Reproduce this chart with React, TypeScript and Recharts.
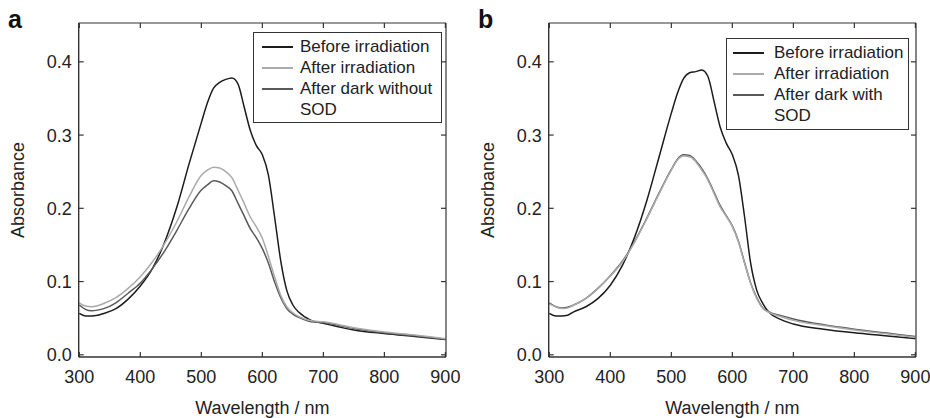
import { Line, LineChart, XAxis, YAxis } from 'recharts'

// wavelength samples (nm)
const WAVELENGTHS = [
    300, 310, 320, 330, 340, 360, 380, 400, 420, 440, 460, 480, 500, 510, 520, 530, 540, 550,
    560, 570, 580, 590, 600, 610, 620, 630, 640, 650, 660, 680, 700, 750, 800, 850, 900,
]

// panel a
const A_BEFORE = [
    0.0565, 0.053, 0.053, 0.054, 0.0565, 0.063, 0.076, 0.094, 0.118, 0.154, 0.202, 0.261, 0.317,
    0.344, 0.364, 0.372, 0.376, 0.378, 0.37, 0.339, 0.307, 0.286, 0.273, 0.245, 0.1885, 0.129,
    0.088, 0.068, 0.058, 0.047, 0.043, 0.034, 0.029, 0.025, 0.021,
]
const A_AFTER_IRR = [
    0.071, 0.0665, 0.0656, 0.067, 0.07, 0.078, 0.0906, 0.1066, 0.127, 0.152, 0.182, 0.216, 0.245,
    0.252, 0.256, 0.255, 0.25, 0.242, 0.225, 0.207, 0.1885, 0.175, 0.159, 0.134, 0.1066, 0.0815,
    0.0656, 0.0574, 0.052, 0.0464, 0.045, 0.037, 0.031, 0.027, 0.022,
]
const A_AFTER_DARK = [
    0.068, 0.062, 0.06, 0.061, 0.063, 0.071, 0.084, 0.098, 0.118, 0.142, 0.17, 0.2, 0.225, 0.232,
    0.2377, 0.236, 0.231, 0.224, 0.207, 0.19, 0.1726, 0.16, 0.145, 0.125, 0.0997, 0.0783, 0.0633,
    0.0556, 0.051, 0.045, 0.044, 0.036, 0.03, 0.026, 0.0215,
]

// panel b
const B_BEFORE = [
    0.0565, 0.053, 0.053, 0.054, 0.0587, 0.0656, 0.077, 0.095, 0.1225, 0.161, 0.211, 0.2705, 0.33,
    0.357, 0.377, 0.385, 0.3866, 0.389, 0.38, 0.346, 0.311, 0.289, 0.273, 0.245, 0.1885, 0.125,
    0.088, 0.07, 0.058, 0.048, 0.042, 0.035, 0.03, 0.026, 0.022,
]
const B_AFTER_IRR = [
    0.07, 0.0656, 0.0633, 0.064, 0.068, 0.077, 0.0906, 0.1075, 0.127, 0.154, 0.186, 0.22, 0.252,
    0.266, 0.2714, 0.2705, 0.2637, 0.252, 0.2386, 0.22, 0.202, 0.189, 0.175, 0.154, 0.125, 0.0975,
    0.077, 0.0633, 0.058, 0.052, 0.047, 0.04, 0.034, 0.029, 0.024,
]
const B_AFTER_DARK = [
    0.071, 0.066, 0.064, 0.065, 0.068, 0.077, 0.091, 0.108, 0.128, 0.155, 0.187, 0.221, 0.253,
    0.267, 0.273, 0.272, 0.265, 0.254, 0.24, 0.222, 0.204, 0.19, 0.176, 0.155, 0.126, 0.098, 0.078,
    0.064, 0.0585, 0.0535, 0.049, 0.041, 0.035, 0.03, 0.025,
]

const X_TICKS = [300, 400, 500, 600, 700, 800, 900]
const Y_TICKS = [0, 0.1, 0.2, 0.3, 0.4]
const LEGEND_A = ['Before irradiation', 'After irradiation', 'After dark without\nSOD']
const LEGEND_B = ['Before irradiation', 'After irradiation', 'After dark with\nSOD']

const COLORS = ['#1c1c1c', '#aaaaaa', '#595959']
const AXIS = '#333'
const TEXT = '#222'
const FONT = '"Liberation Sans", Arial, sans-serif'

function buildRows(before: number[], irr: number[], dark: number[]) {
    return WAVELENGTHS.map((nm, i) => ({
        nm,
        before: before[i],
        irr: irr[i],
        dark: dark[i],
    }))
}

function BottomTick({ x, y, payload }: any) {
    return (
        <g>
            <line x1={x} x2={x} y1={y} y2={y - 5} stroke={AXIS} strokeWidth={1.2} />
            <text x={x} y={y + 26} textAnchor="middle" fontSize={18} fill={TEXT}>
                {payload.value}
            </text>
        </g>
    )
}

function TopTick({ x, y }: any) {
    return <line x1={x} x2={x} y1={y} y2={y + 5} stroke={AXIS} strokeWidth={1.2} />
}

function LeftTick({ x, y, payload }: any) {
    return (
        <g>
            <line x1={x} x2={x + 5} y1={y} y2={y} stroke={AXIS} strokeWidth={1.2} />
            <text x={x - 7} y={y} dy="0.36em" textAnchor="end" fontSize={18} fill={TEXT}>
                {Number(payload.value).toFixed(1)}
            </text>
        </g>
    )
}

function RightTick({ x, y }: any) {
    return <line x1={x} x2={x - 5} y1={y} y2={y} stroke={AXIS} strokeWidth={1.2} />
}

function XTitle({ viewBox }: any) {
    return (
        <text
            x={viewBox.x + viewBox.width / 2}
            y={viewBox.y + 57}
            textAnchor="middle"
            fontSize={18}
            fill={TEXT}
        >
            Wavelength / nm
        </text>
    )
}

function YTitle({ viewBox }: any) {
    const x = viewBox.x + viewBox.width - 55
    const y = viewBox.y + viewBox.height / 2
    return (
        <text
            x={x}
            y={y}
            transform={`rotate(-90, ${x}, ${y})`}
            textAnchor="middle"
            fontSize={18}
            fill={TEXT}
        >
            Absorbance
        </text>
    )
}

type PanelProps = {
    letter: string
    left: number
    width: number
    rows: ReturnType<typeof buildRows>
    legend: string[]
    legendBox: { left: number; top: number; width: number; height: number; pad: number; gap: number }
}

function Panel({ letter, left, width, rows, legend, legendBox }: PanelProps) {
    return (
        <div style={{ position: 'absolute', left, top: 0, width, height: 418 }}>
            <LineChart
                width={width}
                height={418}
                data={rows}
                margin={{ top: 22, right: width - 447, bottom: 31, left: 38.7 }}
            >
                <XAxis
                    dataKey="nm"
                    type="number"
                    domain={[299, 901]}
                    ticks={X_TICKS}
                    height={30}
                    tickSize={0}
                    tickMargin={0}
                    tickLine={false}
                    stroke={AXIS}
                    strokeWidth={1.4}
                    tick={<BottomTick />}
                    allowDataOverflow
                    label={<XTitle />}
                />
                <XAxis
                    xAxisId="top"
                    orientation="top"
                    dataKey="nm"
                    type="number"
                    domain={[299, 901]}
                    ticks={X_TICKS}
                    height={1}
                    tickSize={0}
                    tickMargin={0}
                    tickLine={false}
                    stroke={AXIS}
                    strokeWidth={1.2}
                    tick={<TopTick />}
                    allowDataOverflow
                />
                <YAxis
                    type="number"
                    domain={[-0.003, 0.453]}
                    ticks={Y_TICKS}
                    width={40}
                    tickSize={0}
                    tickMargin={0}
                    tickLine={false}
                    stroke={AXIS}
                    strokeWidth={1.4}
                    tick={<LeftTick />}
                    allowDataOverflow
                    label={<YTitle />}
                />
                <YAxis
                    yAxisId="right"
                    orientation="right"
                    type="number"
                    domain={[-0.003, 0.453]}
                    ticks={Y_TICKS}
                    width={1}
                    tickSize={0}
                    tickMargin={0}
                    tickLine={false}
                    stroke={AXIS}
                    strokeWidth={1.2}
                    tick={<RightTick />}
                    allowDataOverflow
                />
                <Line
                    type="monotone"
                    dataKey="before"
                    stroke={COLORS[0]}
                    strokeWidth={1.5}
                    dot={false}
                    isAnimationActive={false}
                />
                <Line
                    type="monotone"
                    dataKey="dark"
                    stroke={COLORS[2]}
                    strokeWidth={1.5}
                    dot={false}
                    isAnimationActive={false}
                />
                <Line
                    type="monotone"
                    dataKey="irr"
                    stroke={COLORS[1]}
                    strokeWidth={1.5}
                    dot={false}
                    isAnimationActive={false}
                />
            </LineChart>
            <div
                style={{
                    position: 'absolute',
                    left: 8,
                    top: 7,
                    fontSize: 25,
                    lineHeight: 1,
                    fontWeight: 'bold',
                    color: '#111',
                }}
            >
                {letter}
            </div>
            <div
                style={{
                    position: 'absolute',
                    left: legendBox.left - left,
                    top: legendBox.top,
                    width: legendBox.width,
                    height: legendBox.height,
                    boxSizing: 'border-box',
                    border: `1px solid ${AXIS}`,
                    background: '#fff',
                    paddingTop: 3,
                    paddingLeft: legendBox.pad,
                    fontSize: 17,
                    lineHeight: '21px',
                    color: TEXT,
                }}
            >
                {legend.map((name, i) => (
                    <div key={name} style={{ display: 'flex', alignItems: 'flex-start' }}>
                        <div
                            style={{
                                width: 31,
                                height: 1.5,
                                marginTop: 10,
                                background: COLORS[i],
                                flex: 'none',
                            }}
                        />
                        <div style={{ marginLeft: legendBox.gap, whiteSpace: 'pre-line' }}>{name}</div>
                    </div>
                ))}
            </div>
        </div>
    )
}

export default function App() {
    const rowsA = buildRows(A_BEFORE, A_AFTER_IRR, A_AFTER_DARK)
    const rowsB = buildRows(B_BEFORE, B_AFTER_IRR, B_AFTER_DARK)

    return (
        <div
            style={{
                position: 'absolute',
                left: 0,
                top: 0,
                width: 930,
                height: 418,
                background: '#fff',
                fontFamily: FONT,
            }}
        >
            <Panel
                letter="a"
                left={0}
                width={470}
                rows={rowsA}
                legend={LEGEND_A}
                legendBox={{ left: 253, top: 32, width: 189, height: 91, pad: 8, gap: 7 }}
            />
            <Panel
                letter="b"
                left={470}
                width={460}
                rows={rowsB}
                legend={LEGEND_B}
                legendBox={{ left: 726, top: 38, width: 183, height: 92, pad: 6, gap: 10 }}
            />
        </div>
    )
}
